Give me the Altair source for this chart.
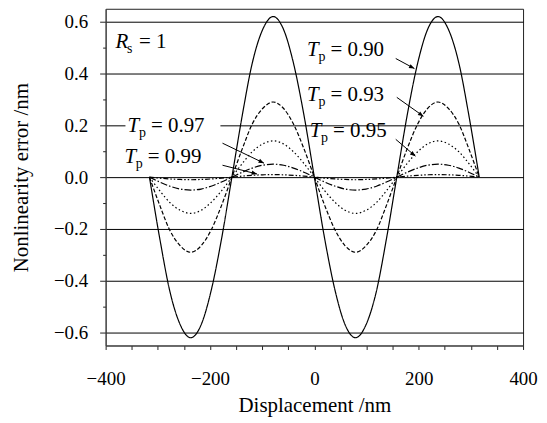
import altair as alt
import pandas as pd

# ---------------- data ----------------
x_nm = [-316, -296, -277, -257, -237, -217, -198, -178, -158, -138, -119, -99, -79, -59, -40, -20,
        0, 20, 40, 59, 79, 99, 119, 138, 158, 178, 198, 217, 237, 257, 277, 296, 316]

err_090 = [0, -0.24, -0.44, -0.57, -0.62, -0.57, -0.44, -0.24, 0, 0.24, 0.44, 0.57, 0.62, 0.57, 0.44, 0.24,
           0, -0.24, -0.44, -0.57, -0.62, -0.57, -0.44, -0.24, 0, 0.24, 0.44, 0.57, 0.62, 0.57, 0.44, 0.24, 0]
err_093 = [0, -0.11, -0.205, -0.265, -0.29, -0.265, -0.205, -0.11, 0, 0.11, 0.205, 0.265, 0.29, 0.265, 0.205, 0.11,
           0, -0.11, -0.205, -0.265, -0.29, -0.265, -0.205, -0.11, 0, 0.11, 0.205, 0.265, 0.29, 0.265, 0.205, 0.11, 0]
err_095 = [0, -0.053, -0.098, -0.128, -0.14, -0.128, -0.098, -0.053, 0, 0.053, 0.098, 0.128, 0.14, 0.128, 0.098, 0.053,
           0, -0.053, -0.098, -0.128, -0.14, -0.128, -0.098, -0.053, 0, 0.053, 0.098, 0.128, 0.14, 0.128, 0.098, 0.053, 0]
err_097 = [0, -0.019, -0.035, -0.046, -0.05, -0.046, -0.035, -0.019, 0, 0.019, 0.035, 0.046, 0.05, 0.046, 0.035, 0.019,
           0, -0.019, -0.035, -0.046, -0.05, -0.046, -0.035, -0.019, 0, 0.019, 0.035, 0.046, 0.05, 0.046, 0.035, 0.019, 0]
err_099 = [0, -0.004, -0.007, -0.009, -0.01, -0.009, -0.007, -0.004, 0, 0.004, 0.007, 0.009, 0.01, 0.009, 0.007, 0.004,
           0, -0.004, -0.007, -0.009, -0.01, -0.009, -0.007, -0.004, 0, 0.004, 0.007, 0.009, 0.01, 0.009, 0.007, 0.004, 0]

series_names = ["0.90", "0.93", "0.95", "0.97", "0.99"]
series_values = [err_090, err_093, err_095, err_097, err_099]

# annotation text (main letter, subscript, rest) and anchor positions in data units
lab_main = ["R", "T", "T", "T", "T", "T"]
lab_sub = ["s", "p", "p", "p", "p", "p"]
lab_rest = ["= 1", "= 0.90", "= 0.93", "= 0.95", "= 0.97", "= 0.99"]
lab_x = [-381, -14, -14, -9, -358, -364]
lab_y = [0.50, 0.469, 0.292, 0.154, 0.173, 0.054]

# arrows: start, end (data units) and head angle (deg)
arr_x1 = [156, 158, 156, -176, -176]
arr_y1 = [0.458, 0.308, 0.146, 0.131, 0.046]
arr_x2 = [191.9, 209.1, 193.8, -96.4, -109.8]
arr_y2 = [0.419, 0.235, 0.081, 0.054, 0.012]
arr_ang = [26.6, 34, 39, 25, 14]

# ---------------- tables ----------------
rows = []
for name, vals in zip(series_names, series_values):
    for xv, yv in zip(x_nm, vals):
        rows.append({"x": xv, "y": yv, "Tp": name})
df = pd.DataFrame(rows)

labels = pd.DataFrame({"main": lab_main, "sub": lab_sub, "rest": lab_rest, "x": lab_x, "y": lab_y})
arrows = pd.DataFrame({"x": arr_x1, "y": arr_y1, "x2": arr_x2, "y2": arr_y2, "ang": arr_ang})
mask = pd.DataFrame({"x": [-362], "x2": [-180], "y": [0.19], "y2": [0.21]})

FONT = "Liberation Serif"
major = "round(datum.value*10) % 2 == 0"

xs = alt.Scale(domain=[-400, 400], nice=False, zero=False)
ys = alt.Scale(domain=[-0.65, 0.65], nice=False, zero=False)

x_axis = alt.Axis(
    values=list(range(-400, 401, 50)),
    labelExpr="datum.value % 200 == 0 ? datum.label : ''",
    title="Displacement /nm",
    grid=False, tickSize=4, tickColor="#222", domainColor="#444",
    labelFont=FONT, labelFontSize=19, labelPadding=20, labelColor="#000", labelFlush=False,
    titleFont=FONT, titleFontSize=21, titleFontWeight="normal", titlePadding=6, titleColor="#000",
    labelOverlap=False,
)
y_axis = alt.Axis(
    values=[-0.6, -0.5, -0.4, -0.3, -0.2, -0.1, 0.0, 0.1, 0.2, 0.3, 0.4, 0.5, 0.6],
    labelExpr=f"{major} ? format(datum.value, '.1f') : ''",
    title="Nonlinearity error /nm",
    grid=True, gridColor="#000", gridWidth=1,
    gridOpacity={"condition": {"test": major, "value": 1}, "value": 0},
    tickSize={"condition": {"test": major, "value": 6}, "value": 3},
    tickColor="#222", domainColor="#444",
    labelFont=FONT, labelFontSize=19, labelPadding=12, labelColor="#000", labelFlush=False,
    titleFont=FONT, titleFontSize=21, titleFontWeight="normal", titlePadding=22, titleColor="#000",
    labelOverlap=False,
)

X = alt.X("x:Q", scale=xs, axis=x_axis)
Y = alt.Y("y:Q", scale=ys, axis=y_axis)

base = alt.Chart(df)

lines = base.mark_line(color="#000", strokeWidth=1.2, interpolate="monotone").encode(
    x=X, y=Y,
    detail="Tp:N",
    strokeDash=alt.StrokeDash(
        "Tp:N",
        scale=alt.Scale(domain=series_names,
                        range=[[1, 0], [4, 2], [1.5, 2.5], [7, 2, 1.5, 2], [5, 2, 1.5, 2, 1.5, 2]]),
        legend=None,
    ),
)

mask_layer = alt.Chart(mask).mark_rect(color="white").encode(
    x=X, x2="x2:Q", y=Y, y2="y2:Q"
)

arrow_lines = alt.Chart(arrows).mark_rule(color="#000", strokeWidth=1).encode(
    x=X, y=Y, x2="x2:Q", y2="y2:Q"
)
arrow_heads = alt.Chart(arrows).mark_point(
    shape="M0,0L-2,-0.8L-2,0.8Z", filled=True, color="#000", size=30, opacity=1
).encode(
    x=alt.X("x2:Q", scale=xs, axis=x_axis),
    y=alt.Y("y2:Q", scale=ys, axis=y_axis),
    angle=alt.Angle("ang:Q", scale=None),
)

t_main = alt.Chart(labels).mark_text(
    font=FONT, fontSize=21, fontStyle="italic", align="left", baseline="alphabetic", color="#000"
).encode(x=X, y=Y, text="main:N")
t_sub = alt.Chart(labels).mark_text(
    font=FONT, fontSize=14, align="left", baseline="alphabetic", dx=11.5, dy=5, color="#000"
).encode(x=X, y=Y, text="sub:N")
t_rest = alt.Chart(labels).mark_text(
    font=FONT, fontSize=21, align="left", baseline="alphabetic", dx=23.5, color="#000"
).encode(x=X, y=Y, text="rest:N")

chart = alt.layer(mask_layer, lines, arrow_lines, arrow_heads, t_main, t_sub, t_rest).properties(
    width=419, height=338,
    autosize=alt.AutoSizeParams(type="none"),
    padding={"left": 98, "top": 0, "right": 16, "bottom": 72},
    background="white",
).configure_view(stroke="#222", strokeWidth=1)

chart.save("out.html", embed_options={"renderer": "svg", "actions": False})
